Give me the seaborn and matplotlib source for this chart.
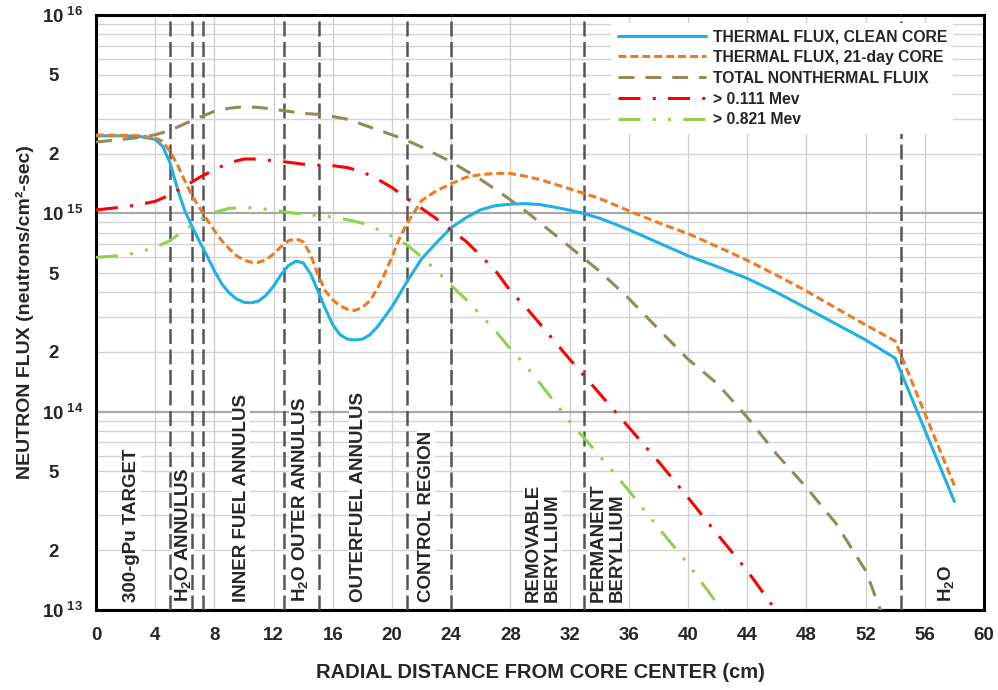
import numpy as np
import matplotlib
matplotlib.use('Agg')
import matplotlib.pyplot as plt
import matplotlib.ticker as mticker
import seaborn as sns

# Flux (neutrons/cm2-sec) vs radial distance (cm)
x_clean = [0, 1, 2, 3, 4, 4.5, 5, 5.5, 6, 6.5, 7, 7.5, 8, 8.5, 9, 9.5, 10, 10.5, 11, 11.5,
           12, 12.5, 13, 13.5, 14, 14.5, 15, 15.5, 16, 16.5, 17, 17.5, 18, 18.5, 19, 20,
           21, 22, 23, 24, 25, 26, 27, 28, 29, 30, 31, 32, 33, 34, 35, 36, 38, 40, 42, 44,
           46, 48, 50, 52, 54, 58]
flux_clean = [2.46e15, 2.46e15, 2.46e15, 2.44e15, 2.36e15, 2.18e15, 1.80e15, 1.33e15, 1.03e15,
              8.57e14, 7.19e14, 6.11e14, 5.13e14, 4.41e14, 3.97e14, 3.70e14, 3.56e14, 3.54e14,
              3.62e14, 3.87e14, 4.30e14, 4.90e14, 5.45e14, 5.74e14, 5.63e14, 4.95e14, 4.06e14,
              3.30e14, 2.74e14, 2.44e14, 2.32e14, 2.30e14, 2.32e14, 2.44e14, 2.67e14, 3.38e14,
              4.51e14, 5.90e14, 7.11e14, 8.47e14, 9.51e14, 1.044e15, 1.094e15, 1.113e15,
              1.12e15, 1.107e15, 1.075e15, 1.038e15, 9.97e14, 9.46e14, 8.87e14, 8.27e14,
              7.11e14, 6.11e14, 5.38e14, 4.70e14, 3.99e14, 3.33e14, 2.77e14, 2.30e14, 1.86e14,
              3.52e13]

x_aged = [0, 1, 2, 3, 4, 4.5, 5, 5.5, 6, 6.5, 7, 7.5, 8, 8.5, 9, 9.5, 10, 10.5, 11, 11.5,
          12, 12.5, 13, 13.5, 14, 14.5, 15, 15.5, 16, 16.5, 17, 17.5, 18, 18.5, 19, 19.5,
          20, 20.5, 21, 22, 23, 24, 25, 26, 27, 28, 29, 30, 32, 34, 36, 38, 40, 42, 44, 46,
          48, 50, 52, 54, 58]
flux_aged = [2.48e15, 2.48e15, 2.47e15, 2.46e15, 2.40e15, 2.31e15, 2.05e15, 1.76e15, 1.46e15,
             1.22e15, 1.07e15, 9.29e14, 8.18e14, 7.28e14, 6.63e14, 6.11e14, 5.80e14, 5.67e14,
             5.67e14, 5.83e14, 6.26e14, 6.79e14, 7.28e14, 7.45e14, 7.19e14, 6.18e14, 4.90e14,
             4.06e14, 3.66e14, 3.41e14, 3.28e14, 3.24e14, 3.36e14, 3.62e14, 4.16e14, 4.95e14,
             6.04e14, 7.45e14, 8.87e14, 1.16e15, 1.30e15, 1.41e15, 1.52e15, 1.57e15, 1.59e15,
             1.59e15, 1.54e15, 1.48e15, 1.33e15, 1.19e15, 1.03e15, 8.97e14, 7.90e14, 6.79e14,
             5.80e14, 4.87e14, 4.06e14, 3.33e14, 2.74e14, 2.27e14, 4.24e13]

x_nonthermal = [0, 1, 2, 3, 4, 5, 6, 7, 8, 9, 10, 11, 12, 13, 14, 15, 16, 17, 18, 19, 20, 21,
                22, 23, 24, 25, 26, 27, 28, 29, 30, 32, 34, 36, 38, 40, 42, 44, 46, 48, 50,
                52, 53, 53.5]
flux_nonthermal = [2.29e15, 2.33e15, 2.37e15, 2.42e15, 2.49e15, 2.62e15, 2.83e15, 3.05e15,
                   3.27e15, 3.39e15, 3.45e15, 3.42e15, 3.35e15, 3.27e15, 3.19e15, 3.16e15,
                   3.08e15, 2.98e15, 2.81e15, 2.64e15, 2.49e15, 2.33e15, 2.16e15, 1.98e15,
                   1.82e15, 1.64e15, 1.48e15, 1.32e15, 1.17e15, 1.03e15, 8.97e14, 6.79e14,
                   5.13e14, 3.72e14, 2.61e14, 1.84e14, 1.38e14, 9.37e13, 6.09e13, 4.15e13,
                   2.73e13, 1.58e13, 1.0e13, 8.4e12]

x_e111 = [0, 1, 2, 3, 4, 5, 6, 7, 8, 9, 10, 11, 12, 13, 14, 15, 16, 17, 18, 19, 20, 21, 22,
          23, 24, 25, 26, 27, 28, 29, 30, 32, 34, 36, 38, 40, 42, 44, 46, 46.5]
flux_e111 = [1.04e15, 1.06e15, 1.08e15, 1.11e15, 1.15e15, 1.24e15, 1.37e15, 1.52e15, 1.66e15,
             1.80e15, 1.88e15, 1.88e15, 1.84e15, 1.81e15, 1.77e15, 1.75e15, 1.74e15, 1.70e15,
             1.62e15, 1.49e15, 1.35e15, 1.19e15, 1.06e15, 9.40e14, 8.22e14, 7.23e14, 6.11e14,
             5.13e14, 4.06e14, 3.39e14, 2.77e14, 1.84e14, 1.24e14, 8.34e13, 5.61e13, 3.69e13,
             2.40e13, 1.58e13, 9.8e12, 8.6e12]

x_e821 = [0, 1, 2, 3, 4, 5, 6, 7, 8, 9, 10, 11, 12, 13, 14, 15, 16, 17, 18, 19, 20, 21, 22,
          23, 24, 25, 26, 27, 28, 29, 30, 32, 34, 36, 38, 40, 42, 42.5]
flux_e821 = [6.00e14, 6.07e14, 6.18e14, 6.40e14, 6.75e14, 7.28e14, 8.27e14, 9.29e14, 1.01e15,
             1.06e15, 1.07e15, 1.06e15, 1.04e15, 1.01e15, 9.91e14, 9.74e14, 9.57e14, 9.29e14,
             8.92e14, 8.32e14, 7.67e14, 6.94e14, 6.04e14, 5.13e14, 4.33e14, 3.68e14, 3.07e14,
             2.55e14, 2.07e14, 1.72e14, 1.39e14, 8.94e13, 6.02e13, 4.00e13, 2.60e13, 1.71e13,
             1.07e13, 9.3e12]

series_labels = ['THERMAL FLUX, CLEAN CORE', 'THERMAL FLUX, 21-day CORE',
                 'TOTAL NONTHERMAL FLUIX', '> 0.111 Mev', '> 0.821 Mev']

# region boundaries (cm) and region names
region_bounds = [5, 6.5, 7.2, 12.7, 15.1, 21, 24, 33.0, 54.4]
region_x = [2.4, 5.9, 9.8, 13.75, 17.75, 22.3, 30.2, 34.6, 57.4]
region_names = ['300-gPu TARGET', 'H$_2$O ANNULUS', 'INNER FUEL ANNULUS',
                'H$_2$O OUTER ANNULUS', 'OUTERFUEL ANNULUS', 'CONTROL REGION',
                'REMOVABLE\nBERYLLIUM', 'PERMANENT\nBERYLLIUM', 'H$_2$O']

x_ticks = list(range(0, 61, 4))
y_decades = [1e13, 1e14, 1e15, 1e16]
y_decade_labels = [r'$10^{\ 13}$', r'$10^{\ 14}$', r'$10^{\ 15}$', r'$10^{\ 16}$']
y_minor_shown = [2, 5]

sns.set_style('white')
plt.rcParams['font.family'] = ['Liberation Sans', 'DejaVu Sans']
plt.rcParams['font.weight'] = 'bold'
plt.rcParams['mathtext.fontset'] = 'custom'
plt.rcParams['mathtext.rm'] = 'Liberation Sans:bold'
plt.rcParams['mathtext.it'] = 'Liberation Sans:bold'
plt.rcParams['mathtext.bf'] = 'Liberation Sans:bold'

fig = plt.figure(figsize=(9.98, 6.9), dpi=100)
ax = fig.add_axes([0.0962, 0.1159, 0.8898, 0.8623])
ax.set_yscale('log')

lw = 2.2
styles = [
    (x_clean, flux_clean, '#1fb0e8', '-'),
    (x_aged, flux_aged, '#ee7b22', (0, (2.6, 1.3))),
    (x_nonthermal, flux_nonthermal, '#948a58', (0, (5.2, 3.6))),
    (x_e111, flux_e111, '#ff0000', (0, (7.2, 4, 1, 4))),
    (x_e821, flux_e821, '#92d050', (0, (7.2, 4, 1, 4, 1, 4))),
]
for (xs, ys, col, ls), lab in zip(styles, series_labels):
    sns.lineplot(x=xs, y=ys, ax=ax, color=col, linestyle=ls, linewidth=lw,
                 label=lab, errorbar=None, sort=False, zorder=4)

# region boundaries
for xb in region_bounds:
    ax.axvline(xb, color='#555555', lw=1.8, linestyle=(0, (6, 2.2)), zorder=3)

# region names
for xr, name in zip(region_x, region_names):
    ax.text(xr, 1.1e13, name, rotation=90, ha='center', va='bottom',
            fontsize=13.5, fontweight='bold', multialignment='left', linespacing=1.15,
            bbox=dict(facecolor='white', edgecolor='none', pad=0.5), zorder=2)

ax.set_xlim(0, 60)
ax.set_ylim(1e13, 1e16)
ax.set_xticks(x_ticks)
ax.set_xticklabels([str(t) for t in x_ticks])
ax.yaxis.set_major_locator(mticker.FixedLocator(y_decades))
ax.yaxis.set_major_formatter(mticker.FixedFormatter(y_decade_labels))
ax.yaxis.set_minor_locator(mticker.LogLocator(base=10, subs=np.arange(2, 10)))


def minor_label(v, pos):
    m = int(round(v / 10 ** np.floor(np.log10(v))))
    return str(m) if m in y_minor_shown else ''


ax.yaxis.set_minor_formatter(mticker.FuncFormatter(minor_label))
ax.tick_params(axis='both', which='both', length=0, labelsize=13.5)
ax.tick_params(axis='y', which='major', pad=9)
ax.tick_params(axis='y', which='minor', pad=27)
ax.tick_params(axis='x', pad=12)
for lab in ax.get_xticklabels() + ax.get_yticklabels() + ax.get_yticklabels(minor=True):
    lab.set_fontweight('bold')

ax.set_axisbelow(True)
ax.grid(axis='x', which='major', color='#d0d0d0', lw=1.0)
ax.grid(axis='y', which='major', color='#a8a8a8', lw=1.6)
ax.grid(axis='y', which='minor', color='#d4d4d4', lw=1.0)

for s in ax.spines.values():
    s.set_color('black')
    s.set_linewidth(2.2)

ax.set_xlabel('RADIAL DISTANCE FROM CORE CENTER (cm)', fontsize=14.5, fontweight='bold',
              labelpad=14)
ax.set_ylabel('NEUTRON FLUX (neutrons/cm\u00b2-sec)', fontsize=14, fontweight='bold',
              labelpad=6)

leg = ax.legend(loc='upper right', bbox_to_anchor=(0.974, 1.0), fontsize=11.3,
                handlelength=5.6, handletextpad=0.45, labelspacing=0.37, frameon=True,
                fancybox=False, framealpha=1, borderaxespad=0.5)
leg.get_frame().set_edgecolor('none')
leg.get_frame().set_facecolor('white')
leg.set_zorder(6)
for t in leg.get_texts():
    t.set_fontweight('bold')

fig.savefig('out.png', dpi=100)
